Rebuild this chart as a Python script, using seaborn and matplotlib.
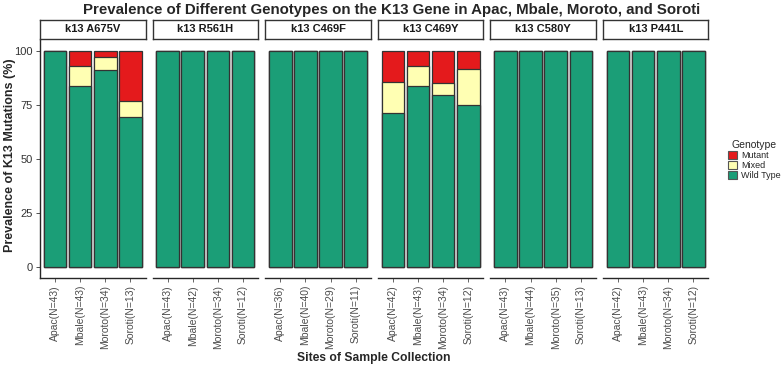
import numpy as np
import pandas as pd
import matplotlib.pyplot as plt
import seaborn as sns
from matplotlib.patches import Patch

sns.set_style("white")
plt.rcParams['font.family'] = ['Liberation Sans', 'DejaVu Sans']

# Data
sites = ["Apac", "Mbale", "Moroto", "Soroti"]
mutations = ["k13 A675V", "k13 R561H", "k13 C469F", "k13 C469Y", "k13 C580Y", "k13 P441L"]
sample_n = [
    [43, 43, 34, 13],
    [43, 42, 34, 12],
    [36, 40, 29, 11],
    [42, 43, 34, 12],
    [43, 44, 35, 13],
    [42, 43, 34, 12],
]
mutant_pct = [
    [0, 7.0, 2.9, 23.1],
    [0, 0, 0, 0],
    [0, 0, 0, 0],
    [14.3, 7.0, 14.7, 8.3],
    [0, 0, 0, 0],
    [0, 0, 0, 0],
]
mixed_pct = [
    [0, 9.3, 5.9, 7.7],
    [0, 0, 0, 0],
    [0, 0, 0, 0],
    [14.3, 9.3, 5.9, 16.7],
    [0, 0, 0, 0],
    [0, 0, 0, 0],
]

colors = {"Mutant": "#E41A1C", "Mixed": "#FFFFB3", "Wild Type": "#1B9E77"}
edge = "#333333"

W, H = 784, 365
fig = plt.figure(figsize=(W / 100, H / 100), dpi=100)

def fx(px):
    return px / W

def fy(px):
    return 1 - px / H

panel_left0, panel_step, panel_w = 40, 112.6, 105.5
panel_top, panel_bot = 40, 278
strip_top, strip_bot = 20, 39

for i, mut in enumerate(mutations):
    df = pd.DataFrame({
        "site": [f"{s}(N={n})" for s, n in zip(sites, sample_n[i])],
        "mutant": mutant_pct[i],
        "mixed": mixed_pct[i],
    })
    df["wild"] = 100 - df["mutant"] - df["mixed"]
    df["top"] = df["wild"] + df["mixed"] + df["mutant"]
    df["mid"] = df["wild"] + df["mixed"]

    left = panel_left0 + i * panel_step
    ax = fig.add_axes([fx(left), fy(panel_bot), panel_w / W, (panel_bot - panel_top) / H])

    # layered bars give the stacked look
    sns.barplot(data=df, x="site", y="top", color=colors["Mutant"], width=0.9,
                edgecolor=edge, linewidth=0.9, saturation=1, ax=ax)
    sns.barplot(data=df, x="site", y="mid", color=colors["Mixed"], width=0.9,
                edgecolor=edge, linewidth=0.9, saturation=1, ax=ax)
    sns.barplot(data=df, x="site", y="wild", color=colors["Wild Type"], width=0.9,
                edgecolor=edge, linewidth=0.9, saturation=1, ax=ax)

    ax.set_xlim(-0.6, 3.6)
    ax.set_ylim(-5, 105)
    ax.set_xlabel("")
    ax.set_ylabel("")
    ax.set_yticks([0, 25, 50, 75, 100])
    ax.tick_params(axis="x", labelrotation=90, labelsize=7.5, labelcolor="#4d4d4d",
                   length=3, width=0.6, color="#4d4d4d", pad=2, bottom=True)
    for sp in ["top", "right"]:
        ax.spines[sp].set_visible(False)
    ax.spines["bottom"].set_linewidth(1.0)
    if i == 0:
        ax.tick_params(axis="y", labelsize=8, labelcolor="#333333", length=3,
                       width=0.6, color="#333333", pad=2, left=True)
        ax.spines["left"].set_linewidth(1.0)
    else:
        ax.spines["left"].set_visible(False)
        ax.set_yticks([])

    # facet strip
    sax = fig.add_axes([fx(left), fy(strip_bot), panel_w / W, (strip_bot - strip_top) / H])
    sax.set_xticks([])
    sax.set_yticks([])
    for sp in sax.spines.values():
        sp.set_visible(True)
        sp.set_color("#333333")
        sp.set_linewidth(1.0)
    sax.text(0.5, 0.5, mut, ha="center", va="center", fontsize=8, fontweight="bold",
             color="#1a1a1a", transform=sax.transAxes)

fig.text(0.5, fy(10), "Prevalence of Different Genotypes on the K13 Gene in Apac, Mbale, Moroto, and Soroti",
         ha="center", va="center", fontsize=10.8, fontweight="bold")
fig.text(fx(374), fy(358), "Sites of Sample Collection", ha="center", va="center",
         fontsize=8.7, fontweight="bold")
fig.text(fx(10), fy(155), "Prevalence of K13 Mutations (%)", ha="center", va="center",
         rotation=90, fontsize=9, fontweight="bold")

handles = [Patch(facecolor=colors[k], edgecolor="#555555", linewidth=0.8, label=k)
           for k in ["Mutant", "Mixed", "Wild Type"]]
leg = fig.legend(handles=handles, title="Genotype", loc="upper left",
                 bbox_to_anchor=(fx(722), fy(134)), frameon=False, fontsize=6.5,
                 title_fontsize=7.5, handlelength=1.0, handleheight=1.0,
                 handletextpad=0.4, labelspacing=0.1, borderpad=0.2)

fig.savefig("out.png", dpi=100)
